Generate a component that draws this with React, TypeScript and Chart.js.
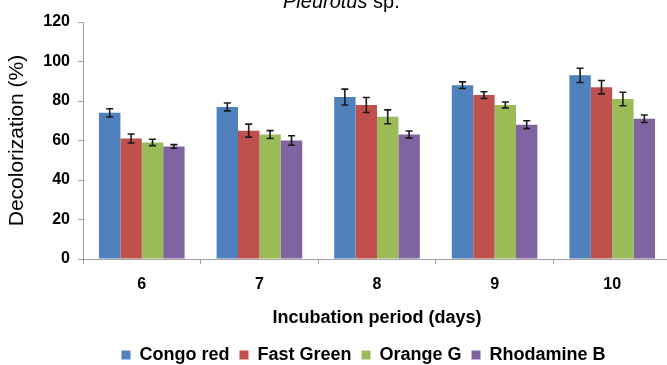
import React, { useEffect, useRef } from "react";
import { Chart, registerables } from "chart.js";

Chart.register(...registerables);

const categories = ["6", "7", "8", "9", "10"];
const seriesNames = ["Congo red", "Fast Green", "Orange G", "Rhodamine B"];
const congoRed = [74, 77, 82, 88, 93];
const fastGreen = [61, 65, 78, 83, 87];
const orangeG = [59, 63, 72, 78, 81];
const rhodamineB = [57, 60, 63, 68, 71];
const congoRedErr = [2.1, 2.0, 4.0, 1.7, 3.6];
const fastGreenErr = [2.3, 3.3, 3.8, 1.7, 3.4];
const orangeGErr = [1.6, 2.0, 3.5, 1.5, 3.4];
const rhodamineBErr = [0.9, 2.4, 1.8, 2.0, 1.9];
const yTicks = [0, 20, 40, 60, 80, 100, 120];

const colors = ["#4F81BD", "#C0504D", "#9BBB59", "#8064A2"];
const FONT = "'Liberation Sans', Arial, sans-serif";
const AXIS = "#a0a0a0";

const errorBarPlugin = {
  id: "errorBars",
  afterDatasetsDraw(chart: any) {
    const ctx = chart.ctx;
    const y = chart.scales.y;
    ctx.save();
    ctx.strokeStyle = "#1a1a1a";
    ctx.lineWidth = 1.6;
    chart.data.datasets.forEach((ds: any, i: number) => {
      const meta = chart.getDatasetMeta(i);
      meta.data.forEach((bar: any, j: number) => {
        const v = ds.data[j];
        const e = ds.errors[j];
        const top = y.getPixelForValue(v + e);
        const bot = y.getPixelForValue(v - e);
        const x = bar.x;
        const cap = 3.5;
        ctx.beginPath();
        ctx.moveTo(x, top);
        ctx.lineTo(x, bot);
        ctx.moveTo(x - cap, top);
        ctx.lineTo(x + cap, top);
        ctx.moveTo(x - cap, bot);
        ctx.lineTo(x + cap, bot);
        ctx.stroke();
      });
    });
    ctx.restore();
  },
};

const titlePlugin = {
  id: "topTitle",
  afterDraw(chart: any) {
    const ctx = chart.ctx;
    ctx.save();
    ctx.fillStyle = "#000";
    ctx.textBaseline = "alphabetic";
    ctx.textAlign = "left";
    ctx.font = `italic 20px ${FONT}`;
    const x0 = 283;
    const yb = 8;
    ctx.fillText("Pleurotus", x0, yb);
    const w = ctx.measureText("Pleurotus").width;
    ctx.font = `20px ${FONT}`;
    ctx.fillText(" sp.", x0 + w, yb);
    ctx.restore();
  },
};

export default function App() {
  const ref = useRef<HTMLCanvasElement>(null);
  useEffect(() => {
    if (!ref.current) return;
    const values = [congoRed, fastGreen, orangeG, rhodamineB];
    const errs = [congoRedErr, fastGreenErr, orangeGErr, rhodamineBErr];
    const chart = new Chart(ref.current, {
      type: "bar",
      data: {
        labels: categories,
        datasets: seriesNames.map((name, i) => ({
          label: name,
          data: values[i],
          errors: errs[i],
          backgroundColor: colors[i],
          borderWidth: 0,
          barPercentage: 1,
          categoryPercentage: 0.728,
          yAxisID: "y",
        })) as any,
      },
      options: {
        responsive: false,
        animation: false,
        layout: { padding: { top: 22, left: 0, right: 0, bottom: 0 } },
        plugins: {
          title: { display: false },
          tooltip: { enabled: false },
          legend: {
            position: "bottom",
            labels: {
              boxWidth: 9,
              boxHeight: 9,
              padding: 10,
              color: "#000",
              font: { family: FONT, size: 18, weight: "bold" },
            },
          },
        },
        scales: {
          x: {
            grid: {
              display: true,
              drawOnChartArea: false,
              drawTicks: true,
              tickLength: 5,
              color: AXIS,
              offset: true,
            },
            border: { display: true, color: AXIS, width: 1 },
            ticks: {
              color: "#000",
              padding: 11,
              font: { family: FONT, size: 16, weight: "bold" },
            },
            title: {
              display: true,
              text: "Incubation period (days)",
              color: "#000",
              padding: { top: 0, bottom: 7 },
              font: { family: FONT, size: 18, weight: "bold" },
            },
            afterFit(scale: any) {
              scale.height = 77;
            },
          },
          y: {
            position: "left",
            min: 0,
            max: 120,
            afterBuildTicks(scale: any) {
              scale.ticks = yTicks.map((v) => ({ value: v }));
            },
            grid: {
              display: true,
              drawOnChartArea: false,
              drawTicks: true,
              tickLength: 5,
              color: AXIS,
            },
            border: { display: true, color: AXIS, width: 1 },
            ticks: {
              color: "#000",
              padding: 8,
              font: { family: FONT, size: 16, weight: "bold" },
            },
            title: {
              display: true,
              text: "Decolorization (%)",
              color: "#000",
              padding: { top: 5, bottom: 0 },
              font: { family: FONT, size: 21 },
            },
            afterFit(scale: any) {
              scale.width = 83;
            },
          },
          yR: {
            position: "right",
            display: true,
            grid: { display: false },
            border: { display: false },
            ticks: { display: false },
            afterFit(scale: any) {
              scale.width = 56;
            },
          },
        },
      } as any,
      plugins: [errorBarPlugin, titlePlugin],
    });
    return () => chart.destroy();
  }, []);

  return (
    <div
      style={{
        position: "fixed",
        left: 0,
        top: 0,
        width: 667,
        height: 365,
        overflow: "hidden",
        background: "#fff",
      }}
    >
      <canvas ref={ref} width={727} height={374} style={{ display: "block" }} />
    </div>
  );
}
